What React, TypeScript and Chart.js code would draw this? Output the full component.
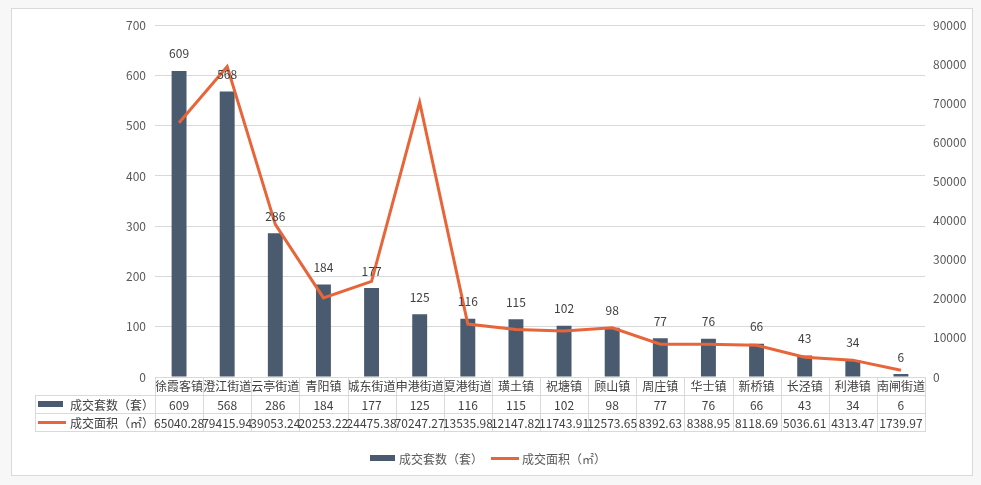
import React, { useEffect, useRef } from "react";
import { Chart, registerables } from "chart.js";

Chart.register(...registerables);

const categories = ["徐霞客镇", "澄江街道", "云亭街道", "青阳镇", "城东街道", "申港街道", "夏港街道", "璜土镇", "祝塘镇", "顾山镇", "周庄镇", "华士镇", "新桥镇", "长泾镇", "利港镇", "南闸街道"];
const units = [609, 568, 286, 184, 177, 125, 116, 115, 102, 98, 77, 76, 66, 43, 34, 6];
const areas = [65040.28, 79415.94, 39053.24, 20253.22, 24475.38, 70247.27, 13535.98, 12147.82, 11743.91, 12573.65, 8392.63, 8388.95, 8118.69, 5036.61, 4313.47, 1739.97];
const seriesNames = ["成交套数（套）", "成交面积（㎡）"];

const BAR_COLOR = "#4a5a6f";
const LINE_COLOR = "#e8653a";
const GRID = "#d9d9d9";
const FONT = "'Noto Sans CJK SC', 'Noto Sans', sans-serif";

const tablePlugin = {
  id: "tablePlugin",
  afterDatasetsDraw(chart: any) {
    const ctx = chart.ctx;
    const meta = chart.getDatasetMeta(0);
    ctx.save();
    ctx.font = `12px ${FONT}`;
    ctx.fillStyle = "#404040";
    ctx.textAlign = "center";
    ctx.textBaseline = "middle";
    meta.data.forEach((el: any, i: number) => {
      ctx.fillText(String(units[i]), el.x, el.y - 17);
    });
    ctx.restore();
  },
  afterDraw(chart: any) {
    const ctx = chart.ctx;
    const ca = chart.chartArea;
    const xs = chart.scales.x;
    const n = categories.length;
    const step = xs.getPixelForValue(1) - xs.getPixelForValue(0);
    const top = Math.round(ca.bottom);
    const r1 = top + 18;
    const r2 = r1 + 18;
    const r3 = r2 + 18;
    const headerLeft = 23;
    ctx.save();
    ctx.strokeStyle = GRID;
    ctx.lineWidth = 1;
    ctx.beginPath();
    [r1, r2, r3].forEach((y) => {
      ctx.moveTo(headerLeft, y + 0.5);
      ctx.lineTo(ca.right, y + 0.5);
    });
    ctx.moveTo(headerLeft + 0.5, r1);
    ctx.lineTo(headerLeft + 0.5, r3 + 1);
    for (let i = 0; i <= n; i++) {
      const bx = Math.round(xs.getPixelForValue(i) - step / 2) + 0.5;
      ctx.moveTo(bx, top);
      ctx.lineTo(bx, r3 + 1);
    }
    ctx.stroke();

    ctx.font = `12px ${FONT}`;
    ctx.fillStyle = "#404040";
    ctx.textAlign = "center";
    ctx.textBaseline = "middle";
    for (let i = 0; i < n; i++) {
      const cx = xs.getPixelForValue(i);
      ctx.fillText(String(units[i]), cx, (r1 + r2) / 2 + 1);
      ctx.fillText(areas[i].toFixed(2), cx, (r2 + r3) / 2 + 1);
    }

    // header cells
    ctx.textAlign = "left";
    ctx.fillStyle = BAR_COLOR;
    ctx.fillRect(26, (r1 + r2) / 2 - 3, 25, 6);
    ctx.strokeStyle = LINE_COLOR;
    ctx.lineWidth = 3;
    ctx.beginPath();
    ctx.moveTo(26, (r2 + r3) / 2 + 0.5);
    ctx.lineTo(54, (r2 + r3) / 2 + 0.5);
    ctx.stroke();
    ctx.fillStyle = "#404040";
    ctx.fillText(seriesNames[0], 58, (r1 + r2) / 2 + 1);
    ctx.fillText(seriesNames[1], 58, (r2 + r3) / 2 + 1);

    // bottom legend
    const ly = 449;
    const w0 = ctx.measureText(seriesNames[0]).width;
    const w1 = ctx.measureText(seriesNames[1]).width;
    const total = 25 + 4 + w0 + 8 + 28 + 3 + w1;
    let lx = chart.width / 2 - total / 2 - 4;
    ctx.fillStyle = BAR_COLOR;
    ctx.fillRect(lx, ly - 3, 25, 6);
    lx += 29;
    ctx.fillStyle = "#595959";
    ctx.fillText(seriesNames[0], lx, ly + 1);
    lx += w0 + 8;
    ctx.strokeStyle = LINE_COLOR;
    ctx.lineWidth = 3;
    ctx.beginPath();
    ctx.moveTo(lx, ly + 0.5);
    ctx.lineTo(lx + 28, ly + 0.5);
    ctx.stroke();
    lx += 31;
    ctx.fillText(seriesNames[1], lx, ly + 1);
    ctx.restore();
  },
};

export default function App() {
  const ref = useRef<HTMLCanvasElement | null>(null);
  useEffect(() => {
    if (!ref.current) return;
    const chart = new Chart(ref.current, {
      type: "bar",
      data: {
        labels: categories,
        datasets: [
          {
            type: "bar",
            label: seriesNames[0],
            data: units,
            backgroundColor: BAR_COLOR,
            barPercentage: 0.31,
            categoryPercentage: 1,
            yAxisID: "y",
            order: 1,
          },
          {
            type: "line",
            label: seriesNames[1],
            data: areas,
            borderColor: LINE_COLOR,
            backgroundColor: LINE_COLOR,
            borderWidth: 3,
            pointRadius: 0,
            tension: 0,
            yAxisID: "y1",
            order: 0,
          },
        ] as any,
      },
      options: {
        animation: false,
        responsive: false,
        devicePixelRatio: 1,
        layout: { padding: { top: 14, left: 0, right: 0, bottom: 0 } },
        plugins: { legend: { display: false }, tooltip: { enabled: false } },
        scales: {
          x: {
            grid: { display: false, drawTicks: false },
            border: { display: true, color: GRID },
            ticks: {
              autoSkip: false,
              maxRotation: 0,
              minRotation: 0,
              padding: 2,
              color: "#404040",
              font: { family: FONT, size: 12 },
            },
            afterFit: (s: any) => {
              s.height = 98;
            },
          },
          y: {
            position: "left",
            min: 0,
            max: 700,
            ticks: { stepSize: 100, padding: 9, color: "#595959", font: { family: FONT, size: 12 } },
            grid: { color: GRID, drawTicks: false },
            border: { display: false },
            afterFit: (s: any) => {
              s.width = 143;
            },
          },
          y1: {
            position: "right",
            min: 0,
            max: 90000,
            ticks: {
              stepSize: 10000,
              padding: 8,
              color: "#595959",
              font: { family: FONT, size: 12 },
              callback: (v: any) => String(v),
            },
            grid: { display: false, drawTicks: false },
            border: { display: false },
            afterFit: (s: any) => {
              s.width = 47;
            },
          },
        },
      } as any,
      plugins: [tablePlugin],
    });
    return () => chart.destroy();
  }, []);

  return (
    <div style={{ position: "absolute", left: 0, top: 0, width: 981, height: 485, background: "#f7f7f7" }}>
      <div
        style={{
          position: "absolute",
          left: 11,
          top: 8,
          width: 960,
          height: 466,
          border: `1px solid ${GRID}`,
          background: "#ffffff",
        }}
      >
        <canvas ref={ref} width={960} height={466} style={{ display: "block", width: 960, height: 466 }} />
      </div>
    </div>
  );
}
